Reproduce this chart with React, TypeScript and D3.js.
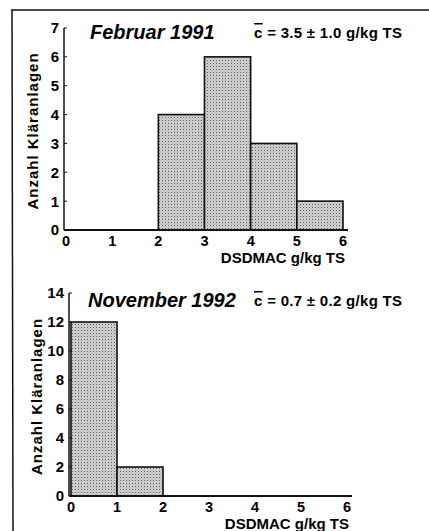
import React from "react";
import * as d3 from "d3";

const W = 429;
const H = 531;
const FONT = "'Liberation Sans', Arial, sans-serif";

// bin lower edges (g/kg TS)
const binStarts = [0, 1, 2, 3, 4, 5];
const xTicks = [0, 1, 2, 3, 4, 5, 6];

const febCounts = [0, 0, 4, 6, 3, 1];
const febYTicks = [0, 1, 2, 3, 4, 5, 6, 7];
const febTitle = "Februar 1991";
const febStat = "= 3.5 ± 1.0 g/kg TS";

const novCounts = [12, 2, 0, 0, 0, 0];
const novYTicks = [0, 2, 4, 6, 8, 10, 12, 14];
const novTitle = "November 1992";
const novStat = "= 0.7 ± 0.2 g/kg TS";

const xLabel = "DSDMAC g/kg TS";
const yLabel = "Anzahl Kläranlagen";

type PanelProps = {
  counts: number[];
  yTicks: number[];
  title: string;
  stat: string;
  x0: number;
  x1: number;
  y0: number;
  y1: number;
  yTitleX: number;
  titleX: number;
  statX: number;
  titleY: number;
};

function Panel(p: PanelProps) {
  const x = d3.scaleLinear().domain([0, 6]).range([p.x0, p.x1]);
  const y = d3.scaleLinear().domain([0, d3.max(p.yTicks) as number]).range([p.y0, p.y1]);
  const bars = binStarts.map((s, i) => ({ s, c: p.counts[i] })).filter(d => d.c > 0);
  const axisX = p.x0 - 2;

  return (
    <g>
      {bars.map((d, i) => (
        <rect
          key={i}
          x={x(d.s)}
          y={y(d.c)}
          width={x(d.s + 1) - x(d.s)}
          height={y(0) - y(d.c)}
          fill="url(#stipple)"
          stroke="#111"
          strokeWidth={1.6}
        />
      ))}
      <line x1={axisX} x2={axisX} y1={y(0)} y2={y.range()[1]} stroke="#111" strokeWidth={1.5} />
      <line x1={axisX} x2={x(6) + 5} y1={y(0)} y2={y(0)} stroke="#111" strokeWidth={1.8} />
      {p.yTicks.map(t => (
        <g key={t}>
          <line x1={axisX} x2={axisX + 3} y1={y(t)} y2={y(t)} stroke="#111" strokeWidth={1} />
          <text x={axisX - 5} y={y(t)} dy="0.36em" textAnchor="end" fontSize={15} fontWeight="bold">{t}</text>
        </g>
      ))}
      {xTicks.map(t => (
        <text key={t} x={x(t)} y={y(0) + 15.5} textAnchor="middle" fontSize={14.5} fontWeight="bold">{t}</text>
      ))}
      <text x={x(6) + 2} y={y(0) + 33} textAnchor="end" fontSize={15} fontWeight="bold">{xLabel}</text>
      <text
        transform={`translate(${p.yTitleX},${(y.range()[0] + y.range()[1]) / 2 + 2}) rotate(-90)`}
        textAnchor="middle"
        fontSize={15}
        fontWeight="bold"
        letterSpacing={1}
      >{yLabel}</text>
      <text x={p.titleX} y={p.titleY} fontSize={20} fontWeight="bold" fontStyle="italic">{p.title}</text>
      <text x={p.statX} y={p.titleY - 1} fontSize={15} fontWeight="bold" letterSpacing={0.3}>
        <tspan textDecoration="overline">c</tspan>
        <tspan> {p.stat}</tspan>
      </text>
    </g>
  );
}

export default function App() {
  return (
    <svg width={W} height={H} style={{ position: "absolute", left: 0, top: 0, background: "#fff", fontFamily: FONT }}>
      <defs>
        <pattern id="stipple" width={3} height={3} patternUnits="userSpaceOnUse">
          <rect width={3} height={3} fill="#d4d4d4" />
          <rect x={0} y={0} width={1} height={1} fill="#555" />
          <rect x={1.5} y={1.5} width={1} height={1} fill="#999" />
        </pattern>
      </defs>
      <rect x={0} y={0} width={W} height={H} fill="#fff" />
      <line x1={11} x2={W} y1={10} y2={10} stroke="#111" strokeWidth={1.5} />
      <line x1={12} x2={13} y1={10} y2={H} stroke="#111" strokeWidth={1.5} />
      <Panel
        counts={febCounts}
        yTicks={febYTicks}
        title={febTitle}
        stat={febStat}
        x0={66}
        x1={343}
        y0={230}
        y1={28}
        yTitleX={38}
        titleX={90}
        statX={254}
        titleY={39}
      />
      <Panel
        counts={novCounts}
        yTicks={novYTicks}
        title={novTitle}
        stat={novStat}
        x0={71}
        x1={347}
        y0={496}
        y1={293}
        yTitleX={42}
        titleX={88}
        statX={254}
        titleY={307}
      />
    </svg>
  );
}
